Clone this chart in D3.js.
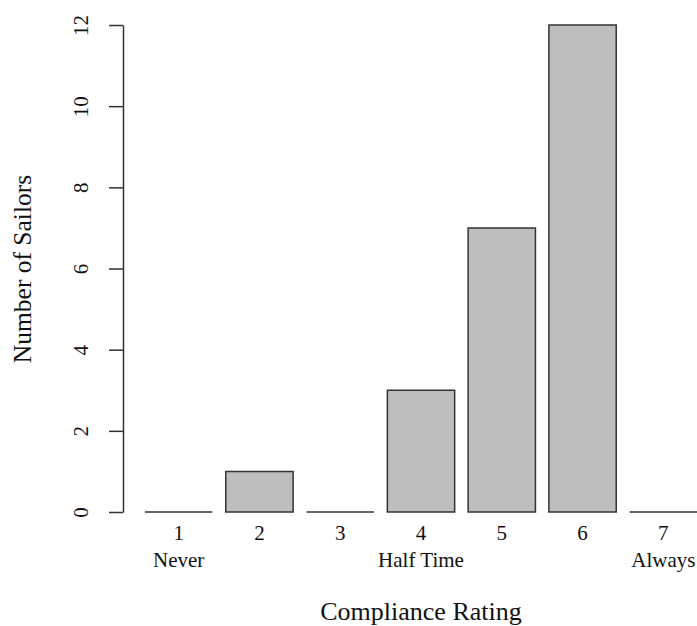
<!DOCTYPE html>
<html>
<head>
<meta charset="utf-8">
<script src="https://cdn.jsdelivr.net/npm/d3@7"></script>
<style>
  html, body { margin: 0; padding: 0; background: #fff; }
  svg { display: block; }
  text { font-family: "Liberation Serif", "DejaVu Serif", serif; fill: #111; }
</style>
</head>
<body>
<svg id="chart" width="697" height="626"></svg>
<script>
const categories = ["1", "2", "3", "4", "5", "6", "7"];
const counts = [0, 1, 0, 3, 7, 12, 0];
const subLabels = ["Never", "", "", "Half Time", "", "", "Always"];
const yTicks = [0, 2, 4, 6, 8, 10, 12];
const xTitle = "Compliance Rating";
const yTitle = "Number of Sailors";

const svg = d3.select("#chart");

const x = d3.scaleBand()
  .domain(categories)
  .range([145, 697])
  .paddingInner(0.2 / 1.2)
  .paddingOuter(0);

const y = d3.scaleLinear().domain([0, 12]).range([512, 25]);

// Bars (paths so zero-height bars still show as a line)
svg.append("g").selectAll("path")
  .data(categories.map((c, i) => ({ c, v: counts[i] })))
  .join("path")
  .attr("d", d => {
    const x0 = x(d.c), w = x.bandwidth(), y0 = y(0), y1 = y(d.v);
    return `M${x0},${y0}H${x0 + w}V${y1}H${x0}Z`;
  })
  .attr("fill", "#bebebe")
  .attr("stroke", "#333")
  .attr("stroke-width", 1.5);

// Y axis
const yAxis = svg.append("g")
  .attr("transform", "translate(123,0)")
  .call(d3.axisLeft(y).tickValues(yTicks).tickSize(14).tickSizeOuter(0).tickFormat(d3.format("d")));
yAxis.select(".domain").attr("stroke", "#333").attr("stroke-width", 1.5);
yAxis.selectAll(".tick line").attr("stroke", "#333").attr("stroke-width", 1.5);
yAxis.selectAll(".tick text")
  .attr("x", null).attr("dy", null)
  .attr("text-anchor", "middle")
  .attr("dominant-baseline", "central")
  .attr("transform", "translate(-42,0) rotate(-90)")
  .style("font-family", "'Liberation Serif', serif")
  .style("font-size", "21px")
  .style("fill", "#111");

// Category labels
svg.append("g").selectAll("text")
  .data(categories)
  .join("text")
  .attr("x", d => x(d) + x.bandwidth() / 2)
  .attr("y", 540)
  .attr("text-anchor", "middle")
  .style("font-size", "21px")
  .text(d => d);

svg.append("g").selectAll("text")
  .data(categories.map((c, i) => ({ c, s: subLabels[i] })).filter(d => d.s))
  .join("text")
  .attr("x", d => x(d.c) + x.bandwidth() / 2)
  .attr("y", 567)
  .attr("text-anchor", "middle")
  .style("font-size", "21px")
  .text(d => d.s);

// Axis titles
svg.append("text")
  .attr("x", 421)
  .attr("y", 620)
  .attr("text-anchor", "middle")
  .style("font-size", "26px")
  .text(xTitle);

svg.append("text")
  .attr("transform", "translate(22,269) rotate(-90)")
  .attr("text-anchor", "middle")
  .attr("dominant-baseline", "central")
  .style("font-size", "25.5px")
  .text(yTitle);
</script>
</body>
</html>
